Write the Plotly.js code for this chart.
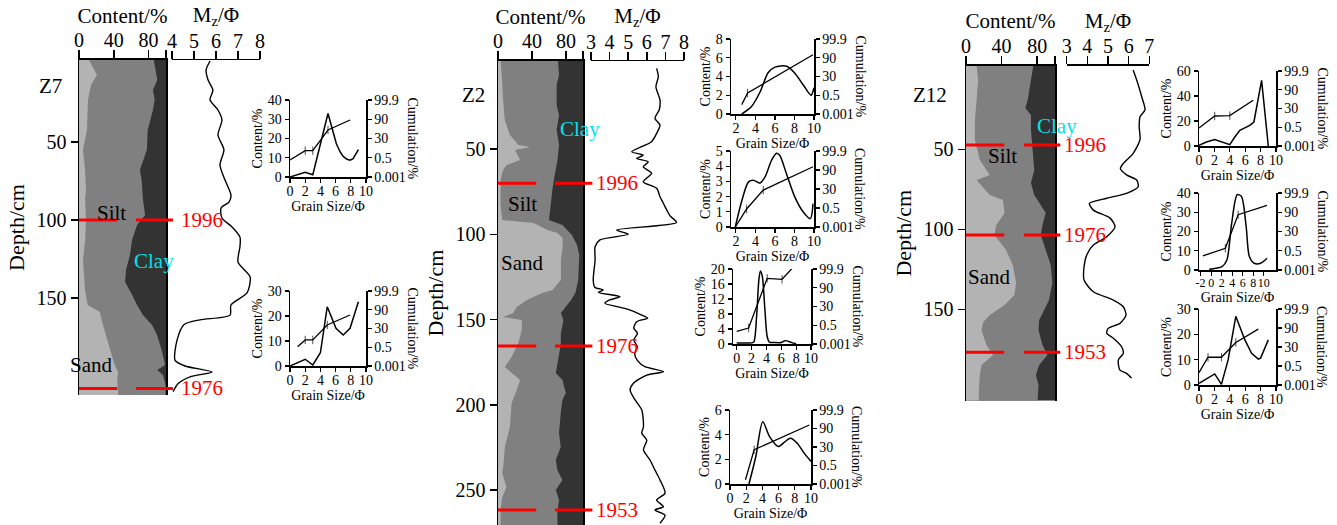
<!DOCTYPE html>
<html><head><meta charset="utf-8">
<script src="https://cdn.plot.ly/plotly-3.0.1.min.js"></script>
<style>html,body{margin:0;padding:0;background:#fff}</style>
</head><body><div id="chart" style="width:1337px;height:525px"></div>
<script>
// ---------------- DATA ----------------
const contentTicks = [0, 40, 80];
const contentEndTick = [100];
const cumTickVals = [0, 1, 2, 3, 4];
const cumTickText = ['0.001', '0.5', '30', '90', '99.9'];
const z12bTickVals = [-2, 0, 2, 4, 6, 8, 10];
const z12bTickText = ['-2', '0', '2', '4', '6', '8', '10'];

// Core Z7 (depth cm, percent / phi)
const z7SandDepth = [-2.5, 7, 13.5, 23, 42, 55, 68, 81, 87, 100, 113, 126, 145, 154.5, 159, 164, 174, 186.5, 193, 197.5, 202.5, 212.2];
const z7Sand = [11.5, 20.7, 13.8, 10.3, 9.2, 4.6, 6.9, 8, 7, 8, 7, 4.6, 7, 10, 24, 26, 31, 38, 41, 45, 44, 45];
const z7ClayDepth = [-2.5, 10.3, 16.7, 23, 29.5, 42.3, 55, 68, 74.4, 84, 87, 96.8, 103.2, 112.8, 122.4, 132, 139.7, 148, 154.5, 160.9, 167.3, 173.7, 183.3, 193, 196.2, 199.4, 205.8, 212.2];
const z7Clay = [14, 10, 15, 13, 15, 21, 22, 30, 28, 26.5, 26.5, 24, 33.3, 39, 41.4, 46, 47, 39, 33.3, 26.5, 16, 10.3, 5, 1, 10, 3.5, 0.5, 0.5];
const z7MzDepth = [-1.9, 3.8, 10.3, 16.7, 23, 29.5, 35.9, 45.5, 55, 64.7, 74.4, 84, 88.5, 92.3, 98.7, 104.5, 111, 117, 127, 136.5, 146.8, 154.5, 161, 164, 167, 177, 190, 193.6, 197.4, 200.6, 205, 210];
const z7Mz = [5.73, 5.55, 5.64, 5.86, 5.73, 6.09, 6.27, 6.09, 6.36, 6.18, 6.41, 6.68, 6.59, 6.23, 6.27, 6.73, 7.09, 7.09, 7.0, 7.55, 7.41, 6.68, 6.64, 5.27, 4.55, 4.23, 4.14, 4.59, 5.82, 4.82, 4.27, 4.05];
const z7Years = ['1996', '1976'];
const z7YearDepth = [100, 208];

// Core Z2
const z2SandDepth = [-1.6, 6.6, 21.3, 33, 41.8, 47.7, 48.8, 50.6, 56.4, 59.4, 62.3, 68.2, 82.8, 91.6, 93.4, 97.5, 99.2, 102.2, 107.4, 115, 126.8, 132.6, 134.4, 138.5, 142.6, 146.1, 148.5, 150.2, 156, 163.6, 171.9, 177.8, 179.6, 185.4, 191.2, 198.9, 213, 224.7, 232.3, 240, 248.2, 254, 261.6, 270.4];
const z2Sand = [3, 4.4, 6, 8, 14, 24, 38, 20, 26, 10, 6, 3, 3, 5, 42, 58, 70, 76, 76, 74, 74, 64, 52, 34, 22, 18, 6, 28, 28, 24, 16, 8, 12, 26, 22, 16, 14, 8, 7, 5, 10, 5, 3, 3];
const z2ClayDepth = [-1.6, 6.6, 12.5, 24.2, 30, 38.9, 47.7, 56.4, 65.2, 74, 82.8, 91.6, 94.6, 97.5, 100.4, 106.3, 112.1, 126.8, 134.4, 138.5, 142.6, 146.1, 150.2, 157.9, 164.9, 171.9, 181.3, 185.4, 193, 197.1, 204.8, 216.5, 224.7, 232.3, 238.2, 244, 249.9, 255.7, 263.4, 270.4];
const z2Clay = [29.4, 28.2, 31, 31, 28.2, 31, 28.2, 30, 33.3, 36.1, 38, 40, 24.2, 18.3, 13, 7, 4.4, 5.6, 9, 14, 21, 26, 23, 26, 26.2, 29, 32, 24.2, 20.2, 24.2, 26.2, 28.2, 26.2, 32, 30.2, 24.2, 32, 28.2, 30.2, 30];
const z2MzDepth = [2.7, 7.6, 13.5, 21.3, 27, 32, 36, 40.8, 45.7, 51.6, 53.6, 55.5, 57.5, 60.4, 64.2, 69.2, 73, 78, 81.8, 85.7, 89.2, 93.1, 97.5, 100, 103.3, 107.3, 115, 126.8, 131, 132.6, 134, 136.6, 138.5, 140.4, 142.4, 144, 147.3, 149.2, 151.2, 155, 158, 162, 166, 170, 174, 177.6, 180.5, 182.5, 187.3, 191.3, 197.1, 203, 212.8, 216.6, 220.6, 226.4, 232.3, 238.2, 244, 251.8, 255.7, 259.7, 261.6, 264.6, 269.4];
const z2Mz = [6.53, 6.62, 6.49, 6.71, 6.67, 6.44, 6.71, 6.53, 6.26, 5.19, 5.8, 5.46, 6.08, 5.81, 6.26, 5.81, 6.53, 6.71, 6.89, 7.07, 7.25, 7.6, 4.38, 5.0, 3.48, 3.22, 3.22, 3.12, 3.2, 3.66, 3.4, 4.56, 4.0, 3.75, 4.4, 5.0, 5.73, 6.05, 5.46, 5.3, 5.5, 5.3, 5.5, 5.35, 5.5, 5.9, 6.9, 6.0, 5.28, 5.1, 5.37, 5.73, 5.82, 5.73, 6.0, 5.82, 6.17, 6.44, 6.71, 6.98, 6.53, 6.89, 6.44, 6.98, 6.71];
const z2Years = ['1996', '1976', '1953'];
const z2YearDepth = [70, 165.4, 261.6];

// Core Z12
const z12SandDepth = [-2.1, 6.7, 19.2, 31.7, 44.2, 56.7, 66.1, 69.2, 78.6, 81.7, 89.8, 97.3, 103.6, 113, 122.3, 133.6, 141.1, 147.3, 153.6, 158, 163, 172.3, 178.6, 184.8, 191.1, 200.4, 207.1];
const z12Sand = [11.9, 13.7, 11.9, 10, 10, 15.6, 26.7, 11.9, 26.7, 41.5, 43.3, 34, 32, 45, 52.6, 56.3, 54.4, 43.3, 26.7, 19.3, 17.4, 23, 30.4, 17.4, 15.6, 14.4, 14.4];
const z12ClayDepth = [-2.1, 6.7, 19.2, 24.2, 28.6, 37.9, 50.4, 62.9, 71.1, 78.6, 81.7, 89.8, 97.3, 103.6, 109.8, 122.3, 133.6, 144.2, 150.4, 156.7, 163, 172.3, 178.6, 184.8, 191.1, 197.3, 207.1];
const z12Clay = [24.4, 27, 30.7, 33.3, 27, 27, 25.2, 23.3, 27, 23.3, 19.6, 10.4, 14.1, 16, 12.2, 4.8, 3, 6.7, 12.2, 17.8, 18.5, 14.1, 8.5, 17.8, 21.5, 18.5, 19.6];
const z12MzDepth = [0.4, 6.7, 17, 25.4, 29.6, 35.9, 44, 52.5, 58.8, 62, 66, 69.2, 73.4, 77.5, 80.6, 83.8, 88, 93, 98.4, 104.6, 109.8, 116, 123.4, 131.7, 139, 144.2, 148.4, 153.6, 158.8, 161.9, 165, 168.1, 173.4, 177.5, 181.7, 188, 190, 193];
const z12Mz = [6.22, 6.39, 6.63, 6.79, 6.55, 6.51, 6.55, 6.22, 5.74, 5.6, 5.9, 6.39, 6.46, 5.9, 4.94, 4.1, 4.29, 5.1, 5.34, 4.94, 4.29, 3.97, 3.84, 3.84, 4.29, 5.26, 5.74, 5.87, 5.58, 5.01, 4.94, 5.26, 5.66, 5.74, 5.5, 5.58, 5.9, 6.14];
const z12Years = ['1996', '1976', '1953'];
const z12YearDepth = [47.3, 103.6, 176.9];

// Grain-size distribution insets (phi, content %, cumulation on probability-scale index 0..4)
const z7aPhi = [0, 2, 3, 5, 6.1, 6.6, 7, 7.5, 7.9, 8.3, 9];
const z7aContent = [0, 2.5, 1.2, 33, 17.3, 13, 10.7, 9.2, 8.7, 9.5, 14.2];
const z7aCumPhi = [0, 2, 3, 5, 7.9];
const z7aCum = [0.88, 1.37, 1.37, 2.44, 2.96];

const z7bPhi = [0, 2, 3, 4, 4.9, 6.05, 7, 7.9, 9];
const z7bContent = [0, 2.7, 0.4, 5.3, 23.7, 15.1, 12.4, 15.1, 25.7];
const z7bCumPhi = [1, 2, 3, 4.9, 7.9];
const z7bCum = [1.03, 1.39, 1.39, 2.19, 2.72];

const z2aPhi = [2.6, 3.6, 4.5, 5.3, 6.0, 7.2, 8.0, 8.9, 9.7, 10];
const z2aContent = [0, 0.8, 2.4, 4.4, 5.0, 5.1, 4.4, 3.1, 2.0, 2.8];
const z2aCumPhi = [2.6, 3.2, 9.9];
const z2aCum = [0.5, 1.12, 3.16];

const z2bPhi = [1.94, 2.62, 3.29, 3.8, 4.48, 4.99, 5.66, 6.17, 6.5, 7.18, 8.03, 8.88, 9.62, 9.9];
const z2bContent = [0, 1.76, 2.97, 3.08, 2.9, 3.3, 4.4, 4.85, 4.7, 3.5, 1.98, 1.0, 0.55, 1.54];
const z2bCumPhi = [1.94, 3.1, 4.8, 9.9];
const z2bCum = [0, 0.95, 1.94, 3.17];

const z2cPhi = [0, 2, 2.3, 2.7, 3.0, 3.2, 3.45, 3.8, 4.1, 4.4, 5, 6, 6.5, 7.5, 8];
const z2cContent = [0.3, 0.3, 0.5, 8, 17.5, 19.5, 18, 9, 2, 0.5, 0.4, 0.4, 0.9, 0.3, 0.1];
const z2cCumPhi = [0, 1.6, 4.1, 6.1, 7.45];
const z2cCum = [0.67, 0.85, 3.5, 3.45, 4.03];

const z2dPhi = [2.34, 3.19, 4.04, 4.89, 5.96, 6.8, 7.45, 8.3, 9.15, 10];
const z2dContent = [0, 2.23, 5.05, 3.84, 3.04, 3.44, 3.71, 3.31, 2.5, 1.83];
const z2dCumPhi = [1.91, 2.98, 9.79];
const z2dCum = [0.23, 1.85, 3.19];

const z12aPhi = [0, 0.96, 2.04, 2.9, 4, 4.65, 5.3, 6.6, 7.13, 8.13, 9];
const z12aContent = [0.5, 3.2, 5.1, 3.2, 1.1, 7.2, 12.5, 16.5, 19.2, 52.5, 0];
const z12aCumPhi = [0, 2.04, 4, 7.04];
const z12aCum = [0.96, 1.6, 1.62, 2.44];

const z12bPhi = [-0.36, 0.86, 2.08, 2.99, 3.9, 4.94, 5.73, 6.64, 7.25, 8.16, 9.38, 10.6];
const z12bContent = [0.35, 0.87, 1.74, 5.2, 24.3, 39.1, 38.3, 22.6, 7, 3.5, 3.5, 6.1];
const z12bCumPhi = [-1.57, 2.69, 5.12, 10.6];
const z12bCum = [0.73, 1.13, 2.87, 3.36];

const z12cPhi = [0, 2.04, 2.91, 3.78, 4.78, 5.96, 6.83, 7.7, 8, 9];
const z12cContent = [0.66, 4.36, 0.26, 9.9, 27.1, 17.8, 12.5, 10.2, 10.6, 17.8];
const z12cCumPhi = [0, 1.17, 2.91, 4.78, 7.7];
const z12cCum = [0.65, 1.46, 1.46, 2.24, 2.94];

// ---------------- BUILD ----------------
const W = 1337, H = 525;
const FONT = '"Liberation Serif", "Times New Roman", serif';
const SAND = '#b3b3b3', SILT = '#808080', CLAY = '#333333';
const CYAN = '#00e1ea', RED = '#ff0000';

const traces = [], shapes = [], annotations = [];
const layout = {
  width: W, height: H, margin: {l: 0, r: 0, t: 0, b: 0},
  paper_bgcolor: '#fff', plot_bgcolor: 'rgba(0,0,0,0)',
  font: {family: FONT, color: '#000', size: 14},
  showlegend: false, hovermode: false,
  shapes, annotations
};
const axKey = (l, n) => l + 'axis' + (n === 1 ? '' : n);
const axId = (l, n) => l + (n === 1 ? '' : n);
const base = {showgrid: false, zeroline: false, showline: true, linecolor: '#000', tickcolor: '#000', ticks: 'outside', fixedrange: true, automargin: false};

function addCore(c) {
  const xa = axId('x', c.xn), xm = axId('x', c.mn), ya = axId('y', c.yn);
  const yDom = [1 - c.py[1] / H, 1 - c.py[0] / H];
  layout[axKey('x', c.xn)] = Object.assign({}, base, {
    domain: [c.colPx[0] / W, c.colPx[1] / W], anchor: ya, side: 'top', range: [0, 100],
    tickvals: contentTicks, ticklen: 8, tickwidth: 1.5, linewidth: 2, ticklabelstandoff: -5,
    minor: {tickmode: 'array', tickvals: contentEndTick, ticks: 'outside', ticklen: 8, tickwidth: 1.5, tickcolor: '#000', showgrid: false},
    tickfont: {size: 20}, title: {text: 'Content/%', font: {size: 21}, standoff: 0}
  });
  layout[axKey('x', c.mn)] = Object.assign({}, base, {
    domain: [c.mzPx[0] / W, c.mzPx[1] / W], anchor: ya, side: 'top', range: c.mzRange,
    tickvals: c.mzTicks, ticklen: 8, tickwidth: 1.5, linewidth: 1.5, ticklabelstandoff: -5,
    tickfont: {size: 20}, title: {text: 'M<sub>z</sub>/Φ', font: {size: 21}, standoff: 0}
  });
  layout[axKey('y', c.yn)] = Object.assign({}, base, {
    domain: yDom, anchor: xa, range: c.depthRange, tickvals: c.yTicks, ticklen: 7, tickwidth: 1.5,
    linewidth: 1.5, mirror: true, tickfont: {size: 20},
    title: {text: 'Depth/cm', font: {size: 22}, standoff: 6}
  });
  const common = {type: 'scatter', mode: 'lines', xaxis: xa, yaxis: ya, hoverinfo: 'skip', line: {width: 0}};
  traces.push(Object.assign({}, common, {x: c.clayD.map(() => 100), y: c.clayD, fill: 'tozerox', fillcolor: CLAY}));
  traces.push(Object.assign({}, common, {x: c.clay.map(v => 100 - v), y: c.clayD, fill: 'tozerox', fillcolor: SILT}));
  traces.push(Object.assign({}, common, {x: c.sand, y: c.sandD, fill: 'tozerox', fillcolor: SAND}));
  traces.push({type: 'scatter', mode: 'lines', x: c.mz, y: c.mzD, xaxis: xm, yaxis: ya, hoverinfo: 'skip',
    line: {color: '#000', width: 1.4, shape: 'spline', smoothing: 0.7}});
  c.yearD.forEach((d, i) => {
    shapes.push({type: 'line', xref: xa + ' domain', yref: ya, x0: 0, x1: c.seg1, y0: d, y1: d, line: {color: RED, width: 3}});
    shapes.push({type: 'line', xref: xa + ' domain', yref: ya, x0: c.seg2[0], x1: c.seg2[1], y0: d, y1: d, line: {color: RED, width: 3}});
    annotations.push({xref: 'paper', yref: ya, x: c.yearPx / W, y: d, xanchor: 'left', yanchor: 'middle',
      text: c.years[i], showarrow: false, font: {color: RED, size: 21}});
  });
  c.labels.forEach(l => annotations.push({xref: 'paper', yref: ya, x: l[1] / W, y: l[2], xanchor: 'center', yanchor: 'middle',
    text: l[0], showarrow: false, font: {size: 21, color: l[3] || '#000'}}));
}

addCore({xn: 1, mn: 2, yn: 1, colPx: [79, 166], mzPx: [172, 260], py: [60, 395], depthRange: [212.2, -2.56],
  yTicks: [50, 100, 150], mzRange: [4, 8], mzTicks: [4, 5, 6, 7, 8],
  sandD: z7SandDepth, sand: z7Sand, clayD: z7ClayDepth, clay: z7Clay, mzD: z7MzDepth, mz: z7Mz,
  years: z7Years, yearD: z7YearDepth, seg1: 0.44, seg2: [0.655, 1.08], yearPx: 179,
  labels: [['Z7', 50, 14], ['Silt', 111, 95.5], ['Clay', 154, 126, CYAN], ['Sand', 91, 193]]});
addCore({xn: 3, mn: 4, yn: 2, colPx: [498, 583], mzPx: [591, 684], py: [61, 525], depthRange: [270.4, -1.6],
  yTicks: [50, 100, 150, 200, 250], mzRange: [3, 8], mzTicks: [3, 4, 5, 6, 7, 8],
  sandD: z2SandDepth, sand: z2Sand, clayD: z2ClayDepth, clay: z2Clay, mzD: z2MzDepth, mz: z2Mz,
  years: z2Years, yearD: z2YearDepth, seg1: 0.45, seg2: [0.67, 1.11], yearPx: 594,
  labels: [['Z2', 474, 18.3], ['Clay', 580, 38, CYAN], ['Silt', 522, 82.5], ['Sand', 522, 116.8]]});
addCore({xn: 5, mn: 6, yn: 3, colPx: [966, 1055], mzPx: [1066.7, 1149.3], py: [65.7, 400.7], depthRange: [207.1, -2.25],
  yTicks: [50, 100, 150], mzRange: [3, 7], mzTicks: [3, 4, 5, 6, 7],
  sandD: z12SandDepth, sand: z12Sand, clayD: z12ClayDepth, clay: z12Clay, mzD: z12MzDepth, mz: z12Mz,
  years: z12Years, yearD: z12YearDepth, seg1: 0.43, seg2: [0.65, 1.06], yearPx: 1062,
  labels: [['Z12', 930, 16], ['Clay', 1057, 35.4, CYAN], ['Silt', 1002, 54.2], ['Sand', 989, 130]]});

const insets = [
  {px: [290, 366], py: [100, 177], xr: [0, 10], xt: [0, 2, 4, 6, 8, 10], yr: [0, 40], yt: [0, 10, 20, 30, 40], p: z7aPhi, c: z7aContent, kp: z7aCumPhi, k: z7aCum, sp: false},
  {px: [290, 366], py: [291, 366], xr: [0, 10], xt: [0, 2, 4, 6, 8, 10], yr: [0, 30], yt: [0, 10, 20, 30], p: z7bPhi, c: z7bContent, kp: z7bCumPhi, k: z7bCum, sp: false},
  {px: [731, 814], py: [39, 114], xr: [1.5, 10], xt: [2, 4, 6, 8, 10], yr: [0, 8], yt: [0, 2, 4, 6, 8], p: z2aPhi, c: z2aContent, kp: z2aCumPhi, k: z2aCum, sp: true},
  {px: [731, 814], py: [151, 227], xr: [1.5, 10], xt: [2, 4, 6, 8, 10], yr: [0, 5], yt: [0, 1, 2, 3, 4, 5], p: z2bPhi, c: z2bContent, kp: z2bCumPhi, k: z2bCum, sp: true},
  {px: [733, 811], py: [269, 344], xr: [-0.5, 10], xt: [0, 2, 4, 6, 8, 10], yr: [0, 20], yt: [0, 4, 8, 12, 16, 20], p: z2cPhi, c: z2cContent, kp: z2cCumPhi, k: z2cCum, sp: true},
  {px: [730, 811], py: [410, 484], xr: [0, 10], xt: [0, 2, 4, 6, 8, 10], yr: [0, 6], yt: [0, 2, 4, 6], p: z2dPhi, c: z2dContent, kp: z2dCumPhi, k: z2dCum, sp: true},
  {px: [1199, 1276], py: [71, 146], xr: [0, 10], xt: [0, 2, 4, 6, 8, 10], yr: [0, 60], yt: [0, 20, 40, 60], p: z12aPhi, c: z12aContent, kp: z12aCumPhi, k: z12aCum, sp: false},
  {px: [1199, 1276], py: [193, 270], xr: [-2.3, 12.3], xt: z12bTickVals, xtt: z12bTickText, yr: [0, 40], yt: [0, 10, 20, 30, 40], p: z12bPhi, c: z12bContent, kp: z12bCumPhi, k: z12bCum, sp: true, xfs: 12},
  {px: [1199, 1276], py: [309, 385], xr: [0, 10], xt: [0, 2, 4, 6, 8, 10], yr: [0, 30], yt: [0, 10, 20, 30], p: z12cPhi, c: z12cContent, kp: z12cCumPhi, k: z12cCum, sp: false}
];

const ib = Object.assign({}, base, {linewidth: 1.5, ticklen: 4, tickwidth: 1.2, tickfont: {size: 14}});
insets.forEach((s, i) => {
  const xn = 7 + i, yl = 4 + 2 * i, yr = 5 + 2 * i;
  const xa = axId('x', xn), yla = axId('y', yl), yra = axId('y', yr);
  const xDom = [s.px[0] / W, s.px[1] / W], yDom = [1 - s.py[1] / H, 1 - s.py[0] / H];
  const xax = Object.assign({}, ib, {domain: xDom, anchor: yla, range: s.xr, tickvals: s.xt,
    tickangle: 0, ticklabelstandoff: -3, tickfont: {size: s.xfs || 14},
    title: {text: 'Grain Size/Φ', font: {size: 14}, standoff: 0}});
  if (s.xtt) xax.ticktext = s.xtt;
  layout[axKey('x', xn)] = xax;
  layout[axKey('y', yl)] = Object.assign({}, ib, {domain: yDom, anchor: xa, range: s.yr, tickvals: s.yt,
    title: {text: 'Content/%', font: {size: 14}, standoff: 2}});
  layout[axKey('y', yr)] = Object.assign({}, ib, {domain: yDom, anchor: xa, overlaying: yla, side: 'right',
    range: [0, 4], tickvals: cumTickVals, ticktext: cumTickText});
  traces.push({type: 'scatter', mode: 'lines', x: s.p, y: s.c, xaxis: xa, yaxis: yla, hoverinfo: 'skip',
    line: {color: '#000', width: 1.5, shape: s.sp ? 'spline' : 'linear', smoothing: 0.8}});
  traces.push({type: 'scatter', mode: 'lines+markers', x: s.kp, y: s.k, xaxis: xa, yaxis: yra, hoverinfo: 'skip',
    line: {color: '#000', width: 1.3},
    marker: {symbol: 'line-ns-open', color: '#000', size: s.k.map((v, j) => (j === 0 || j === s.k.length - 1) ? 0 : 6), line: {width: 1, color: '#000'}}});
  annotations.push({xref: 'paper', yref: 'paper', x: (s.px[1] + 46) / W, y: (yDom[0] + yDom[1]) / 2,
    xanchor: 'center', yanchor: 'middle', textangle: 90, text: 'Cumulation/%', showarrow: false, font: {size: 14}});
});

Plotly.newPlot('chart', traces, layout, {staticPlot: true, displayModeBar: false});
</script></body></html>
